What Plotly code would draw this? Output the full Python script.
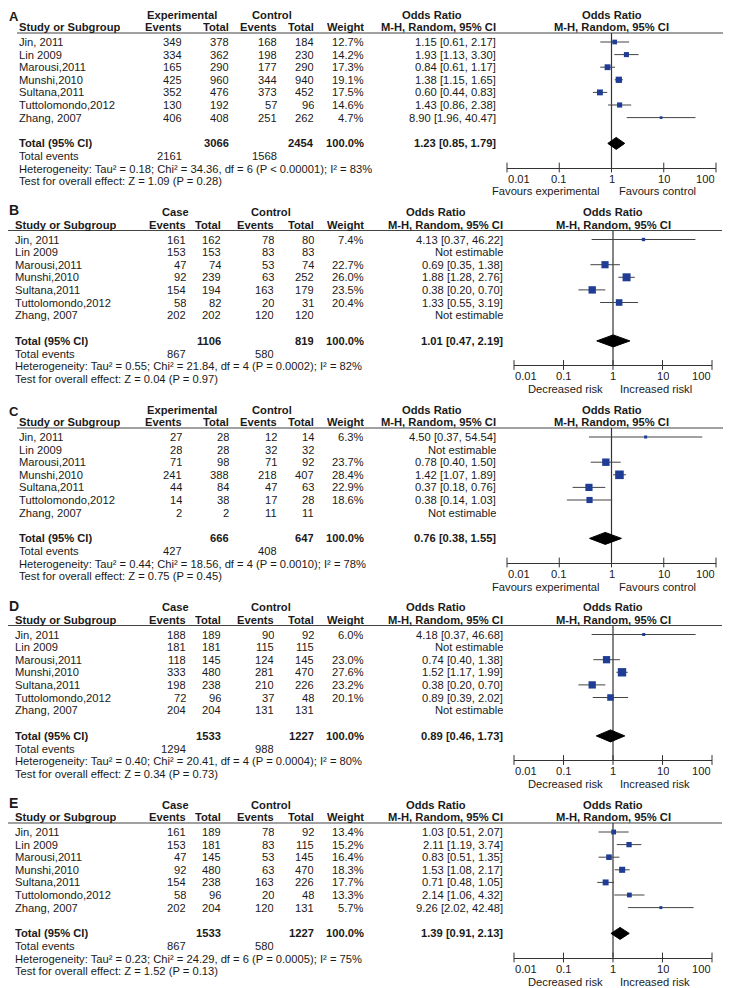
import math
import plotly.graph_objects as go

# page places the figure 8px from the window's top-left corner (default body margin);
# coordinates below are window pixels and are converted accordingly
OFF = 8
W, H = 731 - OFF, 988 - OFF
FONT = "Liberation Sans, Arial, sans-serif"
TXT = "#1a1a1a"
FS = 11.2
BOX_H = 12.4

studies = ["Jin, 2011", "Lin 2009", "Marousi,2011", "Munshi,2010",
           "Sultana,2011", "Tuttolomondo,2012", "Zhang, 2007"]
panel_labels = ["A", "B", "C", "D", "E"]
group_headers = ["Experimental", "Case", "Experimental", "Case", "Case"]
favours_left = ["Favours experimental", "Decreased risk", "Favours experimental",
                "Decreased risk", "Decreased risk"]
favours_right = ["Favours control", "Increased riskl", "Favours control",
                 "Increased risk", "Increased risk"]

# ---- Panel A ----
A_exp_events = [349, 334, 165, 425, 352, 130, 406]
A_exp_total = [378, 362, 290, 960, 476, 192, 408]
A_ctl_events = [168, 198, 177, 344, 373, 57, 251]
A_ctl_total = [184, 230, 290, 940, 452, 96, 262]
A_weight = [12.7, 14.2, 17.3, 19.1, 17.5, 14.6, 4.7]
A_or = [1.15, 1.93, 0.84, 1.38, 0.60, 1.43, 8.90]
A_lo = [0.61, 1.13, 0.61, 1.15, 0.44, 0.86, 1.96]
A_hi = [2.17, 3.30, 1.17, 1.65, 0.83, 2.38, 40.47]
A_summary = [1.23, 0.85, 1.79]
A_totals = [3066, 2454]
A_tot_events = [2161, 1568]
A_het = "Heterogeneity: Tau² = 0.18; Chi² = 34.36, df = 6 (P < 0.00001); I² = 83%"
A_test = "Test for overall effect: Z = 1.09 (P = 0.28)"

# ---- Panel B ----
B_exp_events = [161, 153, 47, 92, 154, 58, 202]
B_exp_total = [162, 153, 74, 239, 194, 82, 202]
B_ctl_events = [78, 83, 53, 63, 163, 20, 120]
B_ctl_total = [80, 83, 74, 252, 179, 31, 120]
B_weight = [7.4, None, 22.7, 26.0, 23.5, 20.4, None]
B_or = [4.13, None, 0.69, 1.88, 0.38, 1.33, None]
B_lo = [0.37, None, 0.35, 1.28, 0.20, 0.55, None]
B_hi = [46.22, None, 1.38, 2.76, 0.70, 3.19, None]
B_summary = [1.01, 0.47, 2.19]
B_totals = [1106, 819]
B_tot_events = [867, 580]
B_het = "Heterogeneity: Tau² = 0.55; Chi² = 21.84, df = 4 (P = 0.0002); I² = 82%"
B_test = "Test for overall effect: Z = 0.04 (P = 0.97)"

# ---- Panel C ----
C_exp_events = [27, 28, 71, 241, 44, 14, 2]
C_exp_total = [28, 28, 98, 388, 84, 38, 2]
C_ctl_events = [12, 32, 71, 218, 47, 17, 11]
C_ctl_total = [14, 32, 92, 407, 63, 28, 11]
C_weight = [6.3, None, 23.7, 28.4, 22.9, 18.6, None]
C_or = [4.50, None, 0.78, 1.42, 0.37, 0.38, None]
C_lo = [0.37, None, 0.40, 1.07, 0.18, 0.14, None]
C_hi = [54.54, None, 1.50, 1.89, 0.76, 1.03, None]
C_summary = [0.76, 0.38, 1.55]
C_totals = [666, 647]
C_tot_events = [427, 408]
C_het = "Heterogeneity: Tau² = 0.44; Chi² = 18.56, df = 4 (P = 0.0010); I² = 78%"
C_test = "Test for overall effect: Z = 0.75 (P = 0.45)"

# ---- Panel D ----
D_exp_events = [188, 181, 118, 333, 198, 72, 204]
D_exp_total = [189, 181, 145, 480, 238, 96, 204]
D_ctl_events = [90, 115, 124, 281, 210, 37, 131]
D_ctl_total = [92, 115, 145, 470, 226, 48, 131]
D_weight = [6.0, None, 23.0, 27.6, 23.2, 20.1, None]
D_or = [4.18, None, 0.74, 1.52, 0.38, 0.89, None]
D_lo = [0.37, None, 0.40, 1.17, 0.20, 0.39, None]
D_hi = [46.68, None, 1.38, 1.99, 0.70, 2.02, None]
D_summary = [0.89, 0.46, 1.73]
D_totals = [1533, 1227]
D_tot_events = [1294, 988]
D_het = "Heterogeneity: Tau² = 0.40; Chi² = 20.41, df = 4 (P = 0.0004); I² = 80%"
D_test = "Test for overall effect: Z = 0.34 (P = 0.73)"

# ---- Panel E ----
E_exp_events = [161, 153, 47, 92, 154, 58, 202]
E_exp_total = [189, 181, 145, 480, 238, 96, 204]
E_ctl_events = [78, 83, 53, 63, 163, 20, 120]
E_ctl_total = [92, 115, 145, 470, 226, 48, 131]
E_weight = [13.4, 15.2, 16.4, 18.3, 17.7, 13.3, 5.7]
E_or = [1.03, 2.11, 0.83, 1.53, 0.71, 2.14, 9.26]
E_lo = [0.51, 1.19, 0.51, 1.08, 0.48, 1.06, 2.02]
E_hi = [2.07, 3.74, 1.35, 2.17, 1.05, 4.32, 42.48]
E_summary = [1.39, 0.91, 2.13]
E_totals = [1533, 1227]
E_tot_events = [867, 580]
E_het = "Heterogeneity: Tau² = 0.23; Chi² = 24.29, df = 6 (P = 0.0005); I² = 75%"
E_test = "Test for overall effect: Z = 1.52 (P = 0.13)"

tick_vals = [0.01, 0.1, 1, 10, 100]
tick_text = ["0.01", "0.1", "1", "10", "100"]

panels = [
    (A_exp_events, A_exp_total, A_ctl_events, A_ctl_total, A_weight, A_or, A_lo, A_hi,
     A_summary, A_totals, A_tot_events, A_het, A_test),
    (B_exp_events, B_exp_total, B_ctl_events, B_ctl_total, B_weight, B_or, B_lo, B_hi,
     B_summary, B_totals, B_tot_events, B_het, B_test),
    (C_exp_events, C_exp_total, C_ctl_events, C_ctl_total, C_weight, C_or, C_lo, C_hi,
     C_summary, C_totals, C_tot_events, C_het, C_test),
    (D_exp_events, D_exp_total, D_ctl_events, D_ctl_total, D_weight, D_or, D_lo, D_hi,
     D_summary, D_totals, D_tot_events, D_het, D_test),
    (E_exp_events, E_exp_total, E_ctl_events, E_ctl_total, E_weight, E_or, E_lo, E_hi,
     E_summary, E_totals, E_tot_events, E_het, E_test),
]

# layout styles (window pixel positions)
STYLE_AC = dict(label_x=8, label_dy=5.6, label_size=13, study_x=18, ev1=183, tot1=230,
                ev2=278, tot2=315, w=365, g1=182, g2=272, orr=497, orh=432, f0=507, f1=716,
                lx0=17, lx1=730, fav_l=601, fav_r=618)
STYLE_BDE = dict(label_x=8, label_dy=3, label_size=14, study_x=14, ev1=187, tot1=222,
                 ev2=275, tot2=315, w=365, g1=175, g2=271, orr=504, orh=436, f0=514, f1=712,
                 lx0=0, lx1=722, fav_l=604, fav_r=619)
styles = [STYLE_AC, STYLE_BDE, STYLE_AC, STYLE_BDE, STYLE_BDE]

PANEL_STEP = 197.5
ROW_STEP = 12.6


def px(x):
    return (x - OFF) / W


def py(y):
    return 1 - (y - OFF) / H


annotations = []


def txt(x, y, s, anchor="left", bold=False, size=FS, height=BOX_H):
    if bold:
        s = "<b>" + s + "</b>"
    annotations.append(dict(x=px(x), y=py(y), xref="paper", yref="paper", text=s,
                            showarrow=False, xanchor=anchor, yanchor="middle",
                            valign="middle", height=height,
                            font=dict(family=FONT, size=size, color=TXT),
                            borderpad=0))


fig = go.Figure()
shapes = []
layout_axes = {}


def fmt_or(o, l, h):
    return f"{o:.2f} [{l:.2f}, {h:.2f}]"


for k, (ee, et, ce, ct, wt, orr, lo, hi, summ, tots, tev, het, test) in enumerate(panels):
    st = styles[k]
    L = 10 + k * PANEL_STEP
    y_grp = L + 4.5
    y_col = L + 17.2
    y_line = L + 23
    y_rows = [L + 32 + i * ROW_STEP for i in range(len(studies))]
    y_tot = L + 133.4
    y_tev = L + 146.2
    y_het = L + 158.8
    y_test = L + 171.4
    y_axis = L + 157.5
    y_ticks = L + 168.8
    y_fav = L + 181.5

    # panel label
    txt(st["label_x"], L + st["label_dy"], panel_labels[k], bold=True,
        size=st["label_size"], height=12)
    # group headers
    txt(st["g1"], y_grp, group_headers[k], anchor="center", bold=True)
    txt(st["g2"], y_grp, "Control", anchor="center", bold=True)
    txt(st["orh"], y_grp, "Odds Ratio", anchor="center", bold=True)
    # column headers
    txt(st["study_x"], y_col, "Study or Subgroup", bold=True)
    txt(st["ev1"], y_col, "Events", anchor="right", bold=True)
    txt(st["tot1"], y_col, "Total", anchor="right", bold=True)
    txt(st["ev2"], y_col, "Events", anchor="right", bold=True)
    txt(st["tot2"], y_col, "Total", anchor="right", bold=True)
    txt(st["w"], y_col, "Weight", anchor="right", bold=True)
    txt(st["orr"], y_col, "M-H, Random, 95% CI", anchor="right", bold=True)

    # underline
    shapes.append(dict(type="line", xref="paper", yref="paper",
                       x0=px(max(st["lx0"], OFF)), x1=px(st["lx1"]), y0=py(y_line), y1=py(y_line),
                       line=dict(color="#444444", width=1.2)))

    # study rows
    for i, s in enumerate(studies):
        y = y_rows[i]
        txt(st["study_x"], y, s)
        txt(st["ev1"], y, str(ee[i]), anchor="right")
        txt(st["tot1"], y, str(et[i]), anchor="right")
        txt(st["ev2"], y, str(ce[i]), anchor="right")
        txt(st["tot2"], y, str(ct[i]), anchor="right")
        if wt[i] is not None:
            txt(st["w"], y, f"{wt[i]:.1f}%", anchor="right")
            txt(st["orr"], y, fmt_or(orr[i], lo[i], hi[i]), anchor="right")
        else:
            txt(st["orr"], y, "Not estimable", anchor="right")

    # totals
    txt(st["study_x"], y_tot, "Total (95% CI)", bold=True)
    txt(st["tot1"], y_tot, str(tots[0]), anchor="right", bold=True)
    txt(st["tot2"], y_tot, str(tots[1]), anchor="right", bold=True)
    txt(st["w"], y_tot, "100.0%", anchor="right", bold=True)
    txt(st["orr"], y_tot, fmt_or(*summ), anchor="right", bold=True)
    txt(st["study_x"], y_tev, "Total events")
    txt(st["ev1"], y_tev, str(tev[0]), anchor="right")
    txt(st["ev2"], y_tev, str(tev[1]), anchor="right")
    txt(st["study_x"], y_het, het)
    txt(st["study_x"], y_test, test)

    # forest axis (log scale)
    ax_name = f"x{k + 2}"
    layout_axes[f"xaxis{k + 2}"] = dict(
        type="log", range=[-2, 2], domain=[px(st["f0"]), px(st["f1"])],
        anchor="free", position=py(y_axis), showline=True, linecolor="#333333",
        linewidth=1, showgrid=False, zeroline=False, ticks="",
        tickvals=tick_vals, showticklabels=False, fixedrange=True)
    # tick labels placed through the log axis (end labels inset, as in RevMan)
    for j, (v, t) in enumerate(zip(tick_vals, tick_text)):
        anc = "left" if j == 0 else ("right" if j == len(tick_vals) - 1 else "center")
        annotations.append(dict(x=math.log10(v), y=py(y_ticks), xref=ax_name, yref="paper",
                                text=t, showarrow=False, xanchor=anc, yanchor="middle",
                                valign="middle", height=BOX_H, borderpad=0,
                                font=dict(family=FONT, size=FS, color=TXT)))
    x_one = st["f0"] + (st["f1"] - st["f0"]) / 2
    txt(x_one, y_grp, "Odds Ratio", anchor="center", bold=True)
    txt(x_one, y_col, "M-H, Random, 95% CI", anchor="center", bold=True)
    txt(st["fav_l"], y_fav, favours_left[k], anchor="right")
    txt(st["fav_r"], y_fav, favours_right[k], anchor="left")

    # tick marks crossing the axis line
    fig.add_trace(go.Scatter(x=tick_vals, y=[y_axis] * len(tick_vals), mode="markers",
                             marker=dict(symbol="line-ns", size=7,
                                         line=dict(color="#333333", width=1)),
                             xaxis=ax_name, yaxis="y", cliponaxis=False,
                             hoverinfo="skip", showlegend=False))
    # line of no effect
    fig.add_trace(go.Scatter(x=[1, 1], y=[y_line, y_axis], mode="lines",
                             line=dict(color="#333333", width=1.2),
                             xaxis=ax_name, yaxis="y", hoverinfo="skip",
                             showlegend=False))
    # CI lines and squares
    for i in range(len(studies)):
        if orr[i] is None:
            continue
        y = y_rows[i]
        fig.add_trace(go.Scatter(x=[lo[i], hi[i]], y=[y, y], mode="lines",
                                 line=dict(color="#444444", width=1),
                                 xaxis=ax_name, yaxis="y", cliponaxis=False,
                                 hoverinfo="skip", showlegend=False))
        fig.add_trace(go.Scatter(x=[orr[i]], y=[y], mode="markers",
                                 marker=dict(symbol="square", size=1.5 + 0.25 * wt[i],
                                             color="#1f3d95", line=dict(width=0)),
                                 xaxis=ax_name, yaxis="y", cliponaxis=False,
                                 hoverinfo="skip", showlegend=False))
    # summary diamond
    o, l, h = summ
    fig.add_trace(go.Scatter(x=[l, o, h, o, l], y=[y_tot, y_tot - 6, y_tot, y_tot + 6, y_tot],
                             mode="lines", fill="toself", fillcolor="#000000",
                             line=dict(color="#000000", width=1),
                             xaxis=ax_name, yaxis="y", hoverinfo="skip",
                             showlegend=False))

fig.update_layout(
    width=W, height=H, margin=dict(l=0, r=0, t=0, b=0),
    paper_bgcolor="white", plot_bgcolor="rgba(0,0,0,0)",
    yaxis=dict(domain=[0, 1], range=[988, OFF], visible=False, fixedrange=True,
               anchor="x2"),
    annotations=annotations, shapes=shapes, showlegend=False,
    font=dict(family=FONT, size=FS, color=TXT),
    **layout_axes,
)

fig.write_html("out.html")
